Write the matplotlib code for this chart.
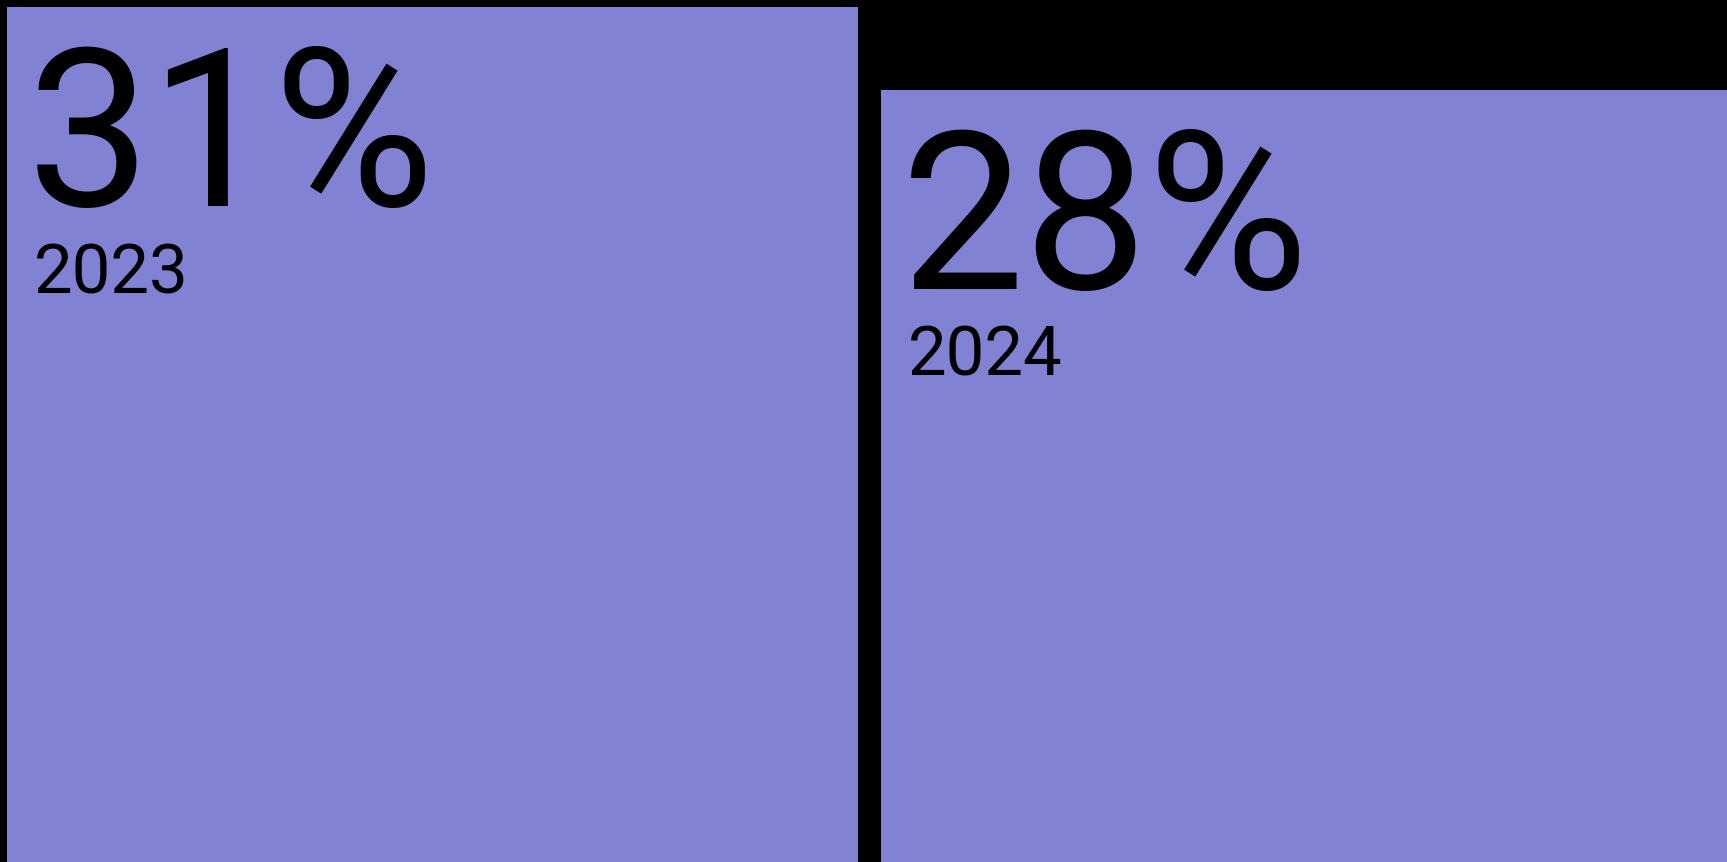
import matplotlib
matplotlib.use("Agg")
import matplotlib.pyplot as plt

# values
years = ["2023", "2024"]
shares = [31, 28]
labels = ["31%", "28%"]

bar_color = "#8282D4"
bg = "#000000"

DPI = 72
W, H = 1727, 862

fig = plt.figure(figsize=(W / DPI, H / DPI), dpi=DPI, facecolor=bg)
ax = fig.add_axes([0, 0, 1, 1])
ax.set_facecolor(bg)

# bar geometry in px: 851 wide, 23 px gap, first bar starts 7 px in
step_px = 874.0
width = 851.0 / step_px
x0 = -width / 2 - 7.0 / step_px
ax.set_xlim(x0, x0 + W / step_px)
top_px = 7.0
ax.set_ylim(0, shares[0] * H / (H - top_px))

xs = list(range(len(years)))
ax.bar(xs, shares, width=width, color=bar_color, linewidth=0)

# big value + year, pinned to the top-left corner of each bar
for x, v, lab, yr in zip(xs, shares, labels, years):
    left = x - width / 2
    ax.annotate(lab, xy=(left, v), xytext=(20, -199), textcoords="offset points",
                ha="left", va="baseline", fontsize=220, family="Roboto",
                color="black")
    ax.annotate(yr, xy=(left, v), xytext=(27, -286), textcoords="offset points",
                ha="left", va="baseline", fontsize=69, family="Roboto",
                color="black")

ax.axis("off")
fig.savefig("out.png", dpi=DPI, facecolor=bg)
